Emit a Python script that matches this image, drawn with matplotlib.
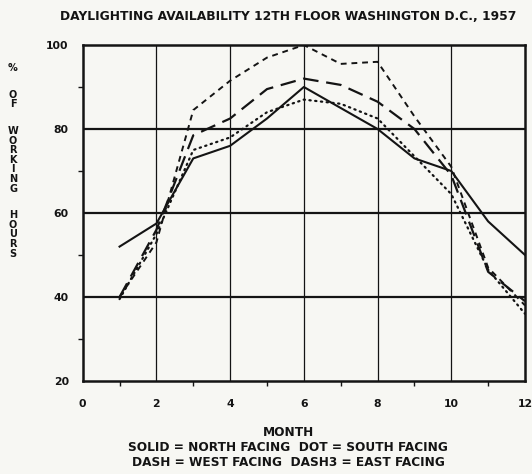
import matplotlib
matplotlib.use("Agg")
import matplotlib.pyplot as plt
from matplotlib.ticker import MultipleLocator, FixedLocator

# Daylighting availability, % of working hours, by month
months = [1, 2, 3, 4, 5, 6, 7, 8, 9, 10, 11, 12]
north = [52, 57.5, 73, 76, 82.5, 90, 85, 80, 73, 70, 58, 50]
south = [39.5, 55, 75, 78, 84, 87, 86, 82.5, 73.5, 64.5, 46.5, 36]
west = [40, 56, 78.5, 82.5, 89.5, 92, 90.5, 86.5, 80, 69, 46, 39]
east = [40, 53, 84.5, 91.5, 97, 100, 95.5, 96, 83, 71, 47, 38]

title = "DAYLIGHTING AVAILABILITY 12TH FLOOR WASHINGTON D.C., 1957"
xlabel_lines = ["MONTH",
                "SOLID = NORTH FACING  DOT = SOUTH FACING",
                "DASH = WEST FACING  DASH3 = EAST FACING"]
ylabel_words = ["%", "OF", "WORKING", "HOURS"]
xticks = [0, 2, 4, 6, 8, 10, 12]
yticks = [20, 40, 60, 80, 100]

W, H = 532, 474
bg = "#f7f7f3"
ink = "#141414"
plt.rcParams["font.family"] = ["DejaVu Sans"]
plt.rcParams["font.weight"] = "bold"

fig = plt.figure(figsize=(W / 100, H / 100), dpi=100, facecolor=bg)
ax = fig.add_axes([82.7 / W, 1 - 381 / H, (525 - 82.7) / W, (381 - 45) / H])
ax.set_facecolor(bg)
ax.set_xlim(0, 12)
ax.set_ylim(20, 100)

# grid: thin verticals, heavy horizontals
for xv in xticks[1:-1]:
    ax.axvline(xv, color=ink, lw=0.9, zorder=1)
for yv in yticks[1:-1]:
    ax.axhline(yv, color=ink, lw=1.6, zorder=1)

ax.plot(months, north, color=ink, lw=1.5, ls="-", zorder=3)
ax.plot(months, south, color=ink, lw=1.6, ls=(0, (0.6, 2.0)), dash_capstyle="round", zorder=3)
ax.plot(months, west, color=ink, lw=1.6, ls=(0, (7, 3.5)), zorder=3)
ax.plot(months, east, color=ink, lw=1.4, ls=(0, (3, 2.5)), zorder=3)

for s in ax.spines.values():
    s.set_linewidth(1.8)
    s.set_color(ink)

ax.xaxis.set_major_locator(FixedLocator(xticks))
ax.yaxis.set_major_locator(FixedLocator(yticks))
ax.xaxis.set_minor_locator(MultipleLocator(1))
ax.yaxis.set_minor_locator(MultipleLocator(10))
ax.tick_params(which="major", length=0, labelsize=7.8, colors=ink)
ax.tick_params(axis="x", which="major", pad=13)
ax.tick_params(axis="y", which="major", pad=10)
ax.tick_params(which="minor", length=3.5, width=1.0, direction="out", colors=ink)
ax.set_xticklabels([str(v) for v in xticks], fontweight="bold")
ax.set_yticklabels([str(v) for v in yticks], fontweight="bold")

fig.text(288 / W, 1 - 16 / H, title, ha="center", va="center", fontsize=8.8, fontweight="bold", color=ink)

for i, line in enumerate(xlabel_lines):
    fig.text(288 / W, 1 - (433 + 14.5 * i) / H, line, ha="center", va="center",
             fontsize=8.7, fontweight="bold", color=ink)

# stacked vertical axis label, one letter per row
y = 68.3
for wi, word in enumerate(ylabel_words):
    if wi > 0:
        y += 17
    for ch in word:
        fig.text(13 / W, 1 - y / H, ch, ha="center", va="center", fontsize=7,
                 fontweight="bold", color=ink)
        y += 9.6

fig.savefig("out.png", dpi=100, facecolor=bg)
